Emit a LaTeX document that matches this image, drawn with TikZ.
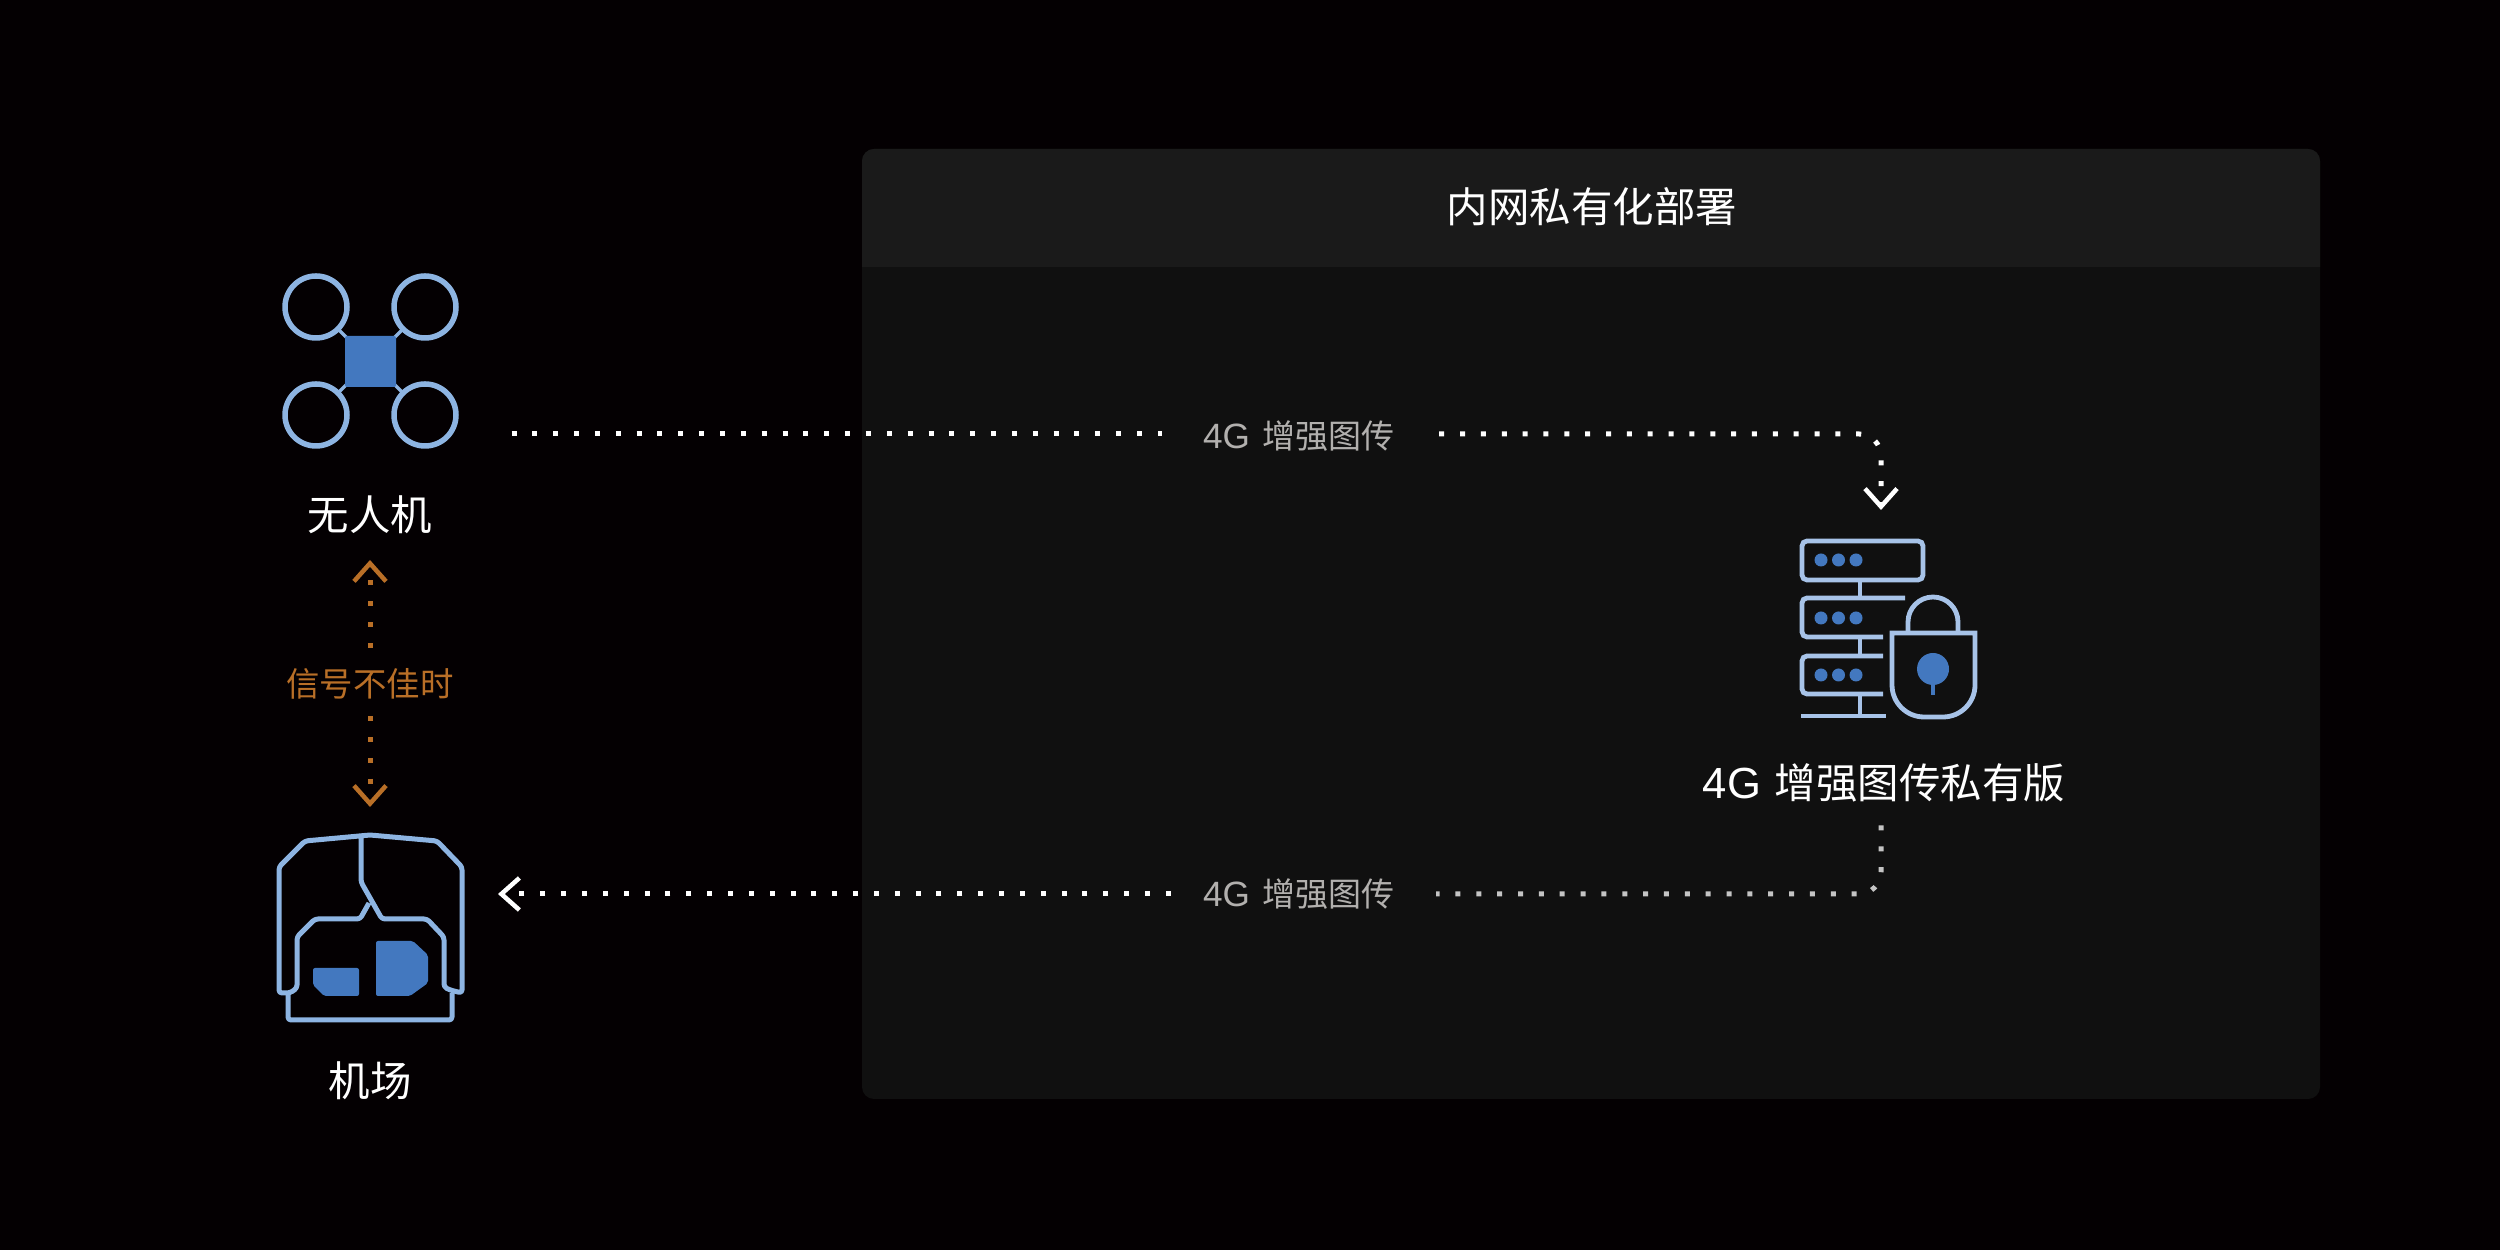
\documentclass[tikz,border=0pt]{standalone}
\usepackage{fontspec}
\setmainfont{Liberation Sans}
\newfontfamily\cjkfont{Noto Sans CJK SC}
\usetikzlibrary{arrows.meta}
\definecolor{pagebg}{HTML}{040002}
\definecolor{panelbody}{HTML}{101010}
\definecolor{panelhead}{HTML}{1A1A1A}
\definecolor{iconline}{HTML}{8DB4E2}
\definecolor{serverline}{HTML}{A7C3E8}
\definecolor{iconfill}{HTML}{4378BF}
\definecolor{signalorange}{HTML}{B96F27}
\definecolor{linkgray}{HTML}{B2B0AE}
\definecolor{dotgray}{HTML}{C4C4C4}
\newcommand{\linkcaption}{{\fontsize{10pt}{12pt}\selectfont 4G}\hspace{0.13cm}{\cjkfont 增强图传}}
\newcommand{\nudgedown}[1]{\raisebox{-0.02cm}[\height][\depth]{#1}}
\tikzset{
  bigtext/.style={text=white,inner sep=0pt,font=\fontsize{11.8pt}{14pt}\selectfont},
  linktext/.style={text=linkgray,inner ysep=0pt,inner xsep=0.435cm,font=\fontsize{9.4pt}{12pt}\selectfont},
  signaltext/.style={text=signalorange,inner sep=0pt,minimum height=0.67cm,font=\fontsize{9.5pt}{12pt}\selectfont},
  dots/.style={line width=0.05cm,dash pattern=on 0.05cm off 0.1585cm,rounded corners=0.22cm},
  barb/.style={-{Straight Barb[length=0.18cm,width=0.32cm,line width=0.045cm]}},
  droneline/.style={draw=iconline,line width=0.055cm},
  hangarline/.style={draw=iconline,line width=0.05cm,line join=round,rounded corners=0.03cm},
  serverstroke/.style={draw=serverline,line width=0.048cm,rounded corners=0.05cm},
}
\begin{document}
\begin{tikzpicture}
\useasboundingbox (0,0) rectangle (25,12.5);
% Page background
\fill [pagebg] (0,0) rectangle (25,12.5);

% Panel with its header
\fill [panelbody,rounded corners=0.12cm] (8.62,1.51) rectangle (23.20,11.01);
\fill [panelhead] (8.62,9.83) -- (8.62,10.89) arc (180:90:0.12) -- (23.08,11.01) arc (90:0:0.12) -- (23.20,9.83) -- cycle;
\node (paneltitle) [bigtext] at (15.92,10.43) {\cjkfont 内网私有化部署};

% Drone arms
\draw [draw=iconline,line width=0.035cm] (3.38,9.21) -- (3.47,9.12);
\draw [draw=iconline,line width=0.035cm] (4.03,9.21) -- (3.94,9.12);
\draw [draw=iconline,line width=0.035cm] (3.38,8.57) -- (3.47,8.66);
\draw [draw=iconline,line width=0.035cm] (4.03,8.57) -- (3.94,8.66);

% Drone rotors
\draw [droneline] (3.16,9.43) circle (0.31);
\draw [droneline] (4.25,9.43) circle (0.31);
\draw [droneline] (3.16,8.35) circle (0.31);
\draw [droneline] (4.25,8.35) circle (0.31);

% Drone body
\fill [iconfill,rounded corners=0.02cm] (3.45,9.14) rectangle (3.96,8.63);
\node (uavlabel) [bigtext] at (3.70,7.35) {\cjkfont 无人机};

% Hangar outline
\draw [hangarline] (3.61,4.14) -- (3.61,3.68) -- (3.82,3.31) -- (4.27,3.31) -- (4.44,3.13) -- (4.44,2.63) -- (4.50,2.60) -- (4.62,2.57) -- (4.62,3.83) -- (4.37,4.09) -- (3.70,4.15) -- (3.05,4.09) -- (2.79,3.83) -- (2.79,2.57) -- (2.90,2.57) -- (2.97,2.62) -- (2.97,3.13) -- (3.15,3.31) -- (3.60,3.31) -- (3.69,3.47);
\draw [hangarline] (2.88,2.57) -- (2.88,2.30) -- (4.52,2.30) -- (4.52,2.57);

% Hangar blocks
\fill [iconfill,rounded corners=0.02cm] (3.13,2.82) -- (3.59,2.82) -- (3.59,2.54) -- (3.24,2.54) -- (3.13,2.65) -- cycle;
\fill [iconfill,rounded corners=0.02cm] (3.76,3.09) -- (4.13,3.09) -- (4.28,2.95) -- (4.28,2.67) -- (4.10,2.54) -- (3.76,2.54) -- cycle;
\node (hangarlabel) [bigtext] at (3.70,1.69) {\cjkfont 机场};

% Server racks
\draw [serverstroke] (18.02,7.09) rectangle (19.23,6.70);
\draw [serverstroke] (19.05,6.52) -- (18.02,6.52) -- (18.02,6.13) -- (18.83,6.13);
\draw [serverstroke] (18.83,5.94) -- (18.02,5.94) -- (18.02,5.56) -- (18.83,5.56);
\draw [serverstroke] (18.60,6.70) -- (18.60,6.52);
\draw [serverstroke] (18.60,6.13) -- (18.60,5.94);
\draw [serverstroke] (18.60,5.56) -- (18.60,5.34);
\draw [serverstroke] (18.01,5.34) -- (18.86,5.34);

% Server lights
\fill [iconfill] (18.21,6.90) circle (0.065);
\fill [iconfill] (18.385,6.90) circle (0.065);
\fill [iconfill] (18.56,6.90) circle (0.065);
\fill [iconfill] (18.21,6.32) circle (0.065);
\fill [iconfill] (18.385,6.32) circle (0.065);
\fill [iconfill] (18.56,6.32) circle (0.065);
\fill [iconfill] (18.21,5.75) circle (0.065);
\fill [iconfill] (18.385,5.75) circle (0.065);
\fill [iconfill] (18.56,5.75) circle (0.065);

% Padlock
\draw [draw=serverline,line width=0.048cm] (18.92,6.17) -- (19.75,6.17) -- (19.75,5.65) arc (0:-90:0.32) -- (19.24,5.33) arc (270:180:0.32) -- cycle;
\draw [draw=serverline,line width=0.048cm] (19.08,6.17) -- (19.08,6.28) arc (180:0:0.25) -- (19.58,6.17);
\fill [iconfill] (19.33,5.81) circle (0.16);
\draw [draw=iconfill,line width=0.045cm] (19.33,5.81) -- (19.33,5.55);
\node (serverlabel) [bigtext] at (18.84,4.67) {{\fontsize{12.4pt}{14pt}\selectfont 4G}\hspace{0.14cm}{\cjkfont 增强图传私有版}};

% Link labels
\node (toplink) [linktext] at (12.99,8.16) {\nudgedown{\linkcaption}};
\node (bottomlink) [linktext] at (12.99,3.56) {\linkcaption};
\node (signal) [signaltext] at (3.70,5.68) {\nudgedown{\cjkfont 信号不佳时}};

% Connector ends
\coordinate (uavout) at (5.115,8.16);
\coordinate (servertop) at (18.81,7.40);
\coordinate (serverout) at (18.81,4.245);
\coordinate (hangarin) at (4.98,3.56);
\coordinate (uavin) at (3.70,6.90);
\coordinate (hangarup) at (3.70,4.43);

% Link from drone to server
\draw [dots,white,shorten >=-0.03cm] (uavout) -- (toplink);
\draw [dots,white,barb] (toplink) -- (toplink -| servertop) -- (servertop);

% Link from server to hangar
\draw [dots,dotgray,shorten >=-0.03cm] (serverout) |- (bottomlink);
\draw [dots,white,barb,shorten <=-0.12cm] (bottomlink) -- (hangarin);

% Fallback when the signal is poor
\draw [dots,signalorange,barb] (signal) -- (uavin);
\draw [dots,signalorange,barb] (signal) -- (hangarup);
\end{tikzpicture}
\end{document}
